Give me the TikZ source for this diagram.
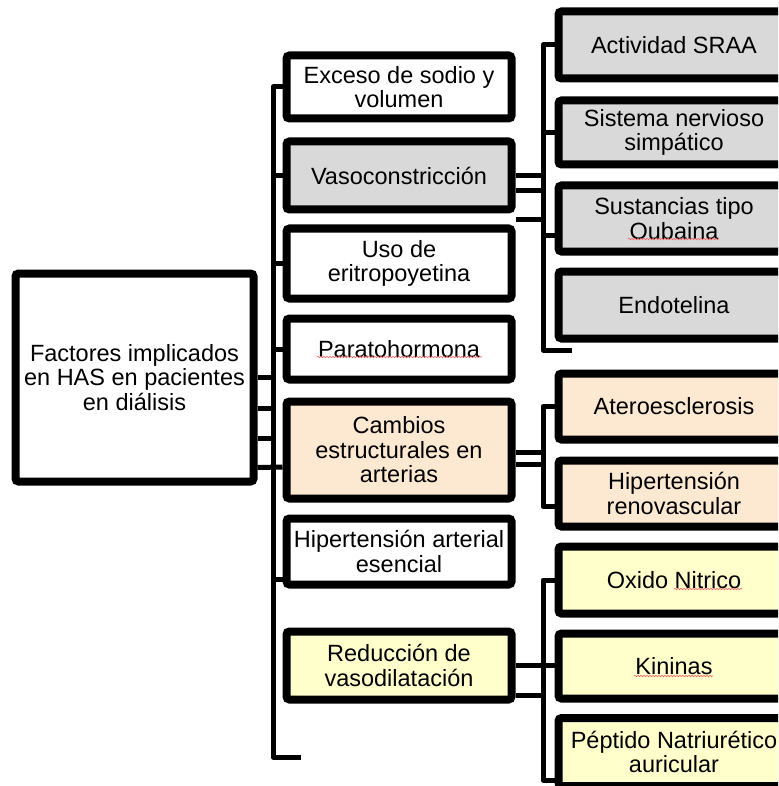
\documentclass[tikz,border=0pt]{standalone}
\usepackage{fontspec}
\setmainfont{Liberation Sans}
\usetikzlibrary{positioning,shadows,decorations.pathmorphing}
\definecolor{boxgray}{RGB}{217,217,217}
\definecolor{boxpeach}{RGB}{253,233,210}
\definecolor{boxyellow}{RGB}{255,255,204}

\begin{document}
\begin{tikzpicture}[x=1pt, y=-1pt,
    font=\fontsize{23.5pt}{24.5pt}\selectfont,
    box/.style={draw, line width=8pt, rounded corners=3pt, fill=white, align=center,
      inner sep=2pt, minimum width=225pt,
      drop shadow={shadow xshift=2pt, shadow yshift=-2pt, opacity=0.25}},
    subbox/.style={box, minimum width=231pt},
    conn/.style={line width=5pt, line join=round},
    squig/.style={red!65, line width=0.6pt, decorate,
      decoration={snake, segment length=3pt, amplitude=0.7pt}}]
\useasboundingbox (0,0) rectangle (778,786);
\clip (0,0) rectangle (778,786);
% main factor
\node[box, minimum width=238pt, minimum height=208pt] (main) at (134.5,377.5)
  {Factores implicados\\en HAS en pacientes\\en diálisis};
% middle column
\node[box, minimum height=63pt] (exceso) at (399,87) {Exceso de sodio y\\volumen};
\node[box, minimum height=68pt, fill=boxgray] (vaso) at (399,175.5) {Vasoconstricción};
\node[box, minimum height=70pt] (uso) at (399,263.5) {Uso de\\eritropoyetina};
\node[box, minimum height=61pt] (parato) at (399,349) {Paratohormona};
\node[box, minimum height=97pt, fill=boxpeach] (cambios) at (399,450) {Cambios\\estructurales en\\arterias};
\node[box, minimum height=66pt] (hipesen) at (399,551.5) {Hipertensión arterial\\esencial};
\node[box, minimum height=68pt, fill=boxyellow] (reduc) at (399,665.5) {Reducción de\\vasodilatación};
% right column
\foreach \name/\yc/\h/\col/\txt in {
    sraa/45/67/boxgray/{Actividad SRAA},
    sistema/132.5/64/boxgray/{Sistema nervioso\\simpático},
    sust/218.5/66/boxgray/{Sustancias tipo\\Oubaina},
    endo/305/67/boxgray/{Endotelina},
    atero/406.5/66/boxpeach/{Ateroesclerosis},
    renov/493.5/66/boxpeach/{Hipertensión\\renovascular},
    oxido/580/67/boxyellow/{Oxido Nitrico},
    kin/666/65/boxyellow/{Kininas},
    pept/752/68/boxyellow/{Péptido Natriurético\\auricular}}{
  \node[subbox, minimum height=\h pt, fill=\col] (\name) at (674,\yc) {\txt};
}
% spelling marks
\draw[squig] (317,357) -- (482,357);
\draw[squig] (628,239) -- (719,239);
\draw[squig] (674,589) -- (742,589);
\draw[squig] (634,676) -- (713,676);
% trunk
\coordinate (trunk) at (273,0);
\coordinate (tEnd) at (301,757);
\draw[conn] (exceso.west) -| (trunk |- tEnd) -- (tEnd);
\foreach \n in {vaso,uso,parato}
  \draw[conn] (trunk |- \n.west) -- (\n.west);
\coordinate (h1) at ([yshift=-28pt]hipesen.west);
\draw[conn] (trunk |- h1) -- (h1);
\coordinate (mj) at (trunk |- main.east);
\foreach \d in {0,31,61}
  \draw[conn] ([yshift=-\d pt]main.east) -- ([yshift=-\d pt]mj);
\draw[conn] ([yshift=-90pt]main.east) -- ([yshift=-17pt]cambios.west);
% brackets on the right
\coordinate (brk) at (543,0);
\coordinate (gEnd) at (572,350);
\draw[conn] (sraa.west) -| (brk |- gEnd) -- (gEnd);
\draw[conn] (brk |- sistema.west) -- (sistema.west);
\coordinate (s1) at ([yshift=-17pt]sust.west);
\draw[conn] (brk |- s1) -- (s1);
\foreach \d in {0,15,44}{
  \coordinate (v\d) at ([yshift=-\d pt]vaso.east);
  \draw[conn] (v\d) -- (brk |- v\d);
}
\coordinate (r1) at ([yshift=-13pt]renov.west);
\draw[conn] (atero.west) -| (brk |- r1) -- (r1);
\foreach \d in {2,14}{
  \coordinate (c\d) at ([yshift=-\d pt]cambios.east);
  \draw[conn] (c\d) -- (brk |- c\d);
}
\coordinate (yEnd) at (560,780);
\draw[conn] (oxido.west) -| (brk |- yEnd) -- (yEnd);
\draw[conn] (reduc.east) -- (reduc.east -| kin.west);
\coordinate (d1) at ([yshift=-30pt]reduc.east);
\draw[conn] (d1) -- (brk |- d1);
\end{tikzpicture}
\end{document}
